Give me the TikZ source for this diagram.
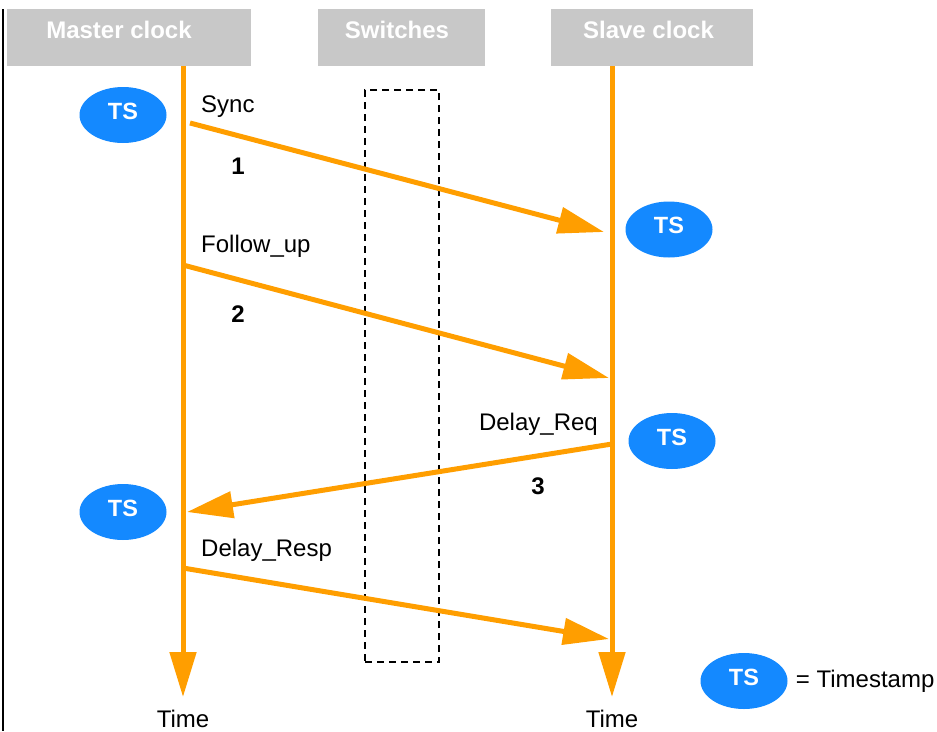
\documentclass[tikz,border=0pt]{standalone}
\usepackage{fontspec}
\setmainfont{Liberation Sans}
\usetikzlibrary{shapes.geometric, arrows.meta, positioning}
\definecolor{ptporange}{RGB}{255,158,0}
\definecolor{tsblue}{RGB}{20,137,255}
\definecolor{headgray}{RGB}{200,200,200}
\tikzset{
    header/.style = {rectangle, fill=headgray, text=white, font=\fontsize{24}{28}\selectfont\bfseries, minimum height=57pt, inner sep=0pt, text height=17pt, text depth=15pt},
    tsnode/.style = {ellipse, fill=tsblue, text=white, font=\fontsize{23.5}{28}\selectfont\bfseries, minimum width=87pt, minimum height=56pt, inner sep=0pt, text depth=8pt},
    lifeline/.style = {ptporange, line width=5pt, -{Triangle[length=45pt, width=26pt]}},
    msg/.style = {ptporange, line width=5pt, -{Triangle[length=46pt, width=26pt]}},
    lbl/.style = {font=\fontsize{24}{28}\selectfont, inner sep=0pt},
    num/.style = {font=\fontsize{24}{28}\selectfont\bfseries, inner sep=0pt},
    switchbox/.style = {draw, dash pattern=on 7pt off 5pt, line width=1.5pt}
}

\begin{document}
\begin{tikzpicture}[x=1pt, y=-1pt]
\useasboundingbox (0,0) rectangle (937,731);
% Frame edge
\draw[line width=1.3pt] (3,9) -- (3,731);

% Headers
\node (master) [header, minimum width=244pt] at (129,37.5) {Master clock\hspace*{20pt}};
\node (switches) [header, minimum width=167pt] at (401.5,37.5) {Switches\hspace*{9pt}};
\node (slave) [header, minimum width=202pt] at (652,37.5) {Slave clock\hspace*{7pt}};

% Switches
\node (swbox) [switchbox, minimum width=74pt, minimum height=572pt] at (402,376) {};

% Lifelines
\coordinate (mend) at (183,697);
\coordinate (send) at (612,697);
\draw [lifeline] (master.south -| mend) -- (mend);
\draw [lifeline] (slave.south -| send) -- (send);
\node (mtime) [lbl, below=13pt of mend] {Time};
\node (stime) [lbl, below=13pt of send] {Time};

% Timestamps
\node (ts1) [tsnode] at (123,115) {TS};
\node (ts2) [tsnode] at (669,229.5) {TS};
\node (ts3) [tsnode] at (672,441) {TS};
\node (ts4) [tsnode] at (123,512) {TS};
\node (tskey) [tsnode] at (744,681) {TS};
\node (key) [lbl, right=8pt of tskey] {= Timestamp};

% Messages
\coordinate (sync) at (190,123);
\coordinate (synce) at (604,232);
\coordinate (fup) at (183,265);
\coordinate (fupe) at (609,378);
\coordinate (dreq) at (612,444);
\coordinate (dreqe) at (187,512);
\coordinate (dresp) at (183,568);
\coordinate (drespe) at (609,639);
\draw [msg] (sync) -- (synce);
\draw [msg] (fup) -- (fupe);
\draw [msg] (dreq) -- (dreqe);
\draw [msg] (dresp) -- (drespe);

% Labels
\node (lsync) [lbl, anchor=base west] at (201,112) {Sync};
\node (lfup) [lbl, anchor=base west] at (201,252) {Follow\_up};
\node (ldreq) [lbl, anchor=base east] at (598,430) {Delay\_Req};
\node (ldresp) [lbl, anchor=base west] at (201,556) {Delay\_Resp};
\node (n1) [num] at (238,166) {1};
\node (n2) [num] at (238,314) {2};
\node (n3) [num] at (538,486) {3};

\end{tikzpicture}
\end{document}
